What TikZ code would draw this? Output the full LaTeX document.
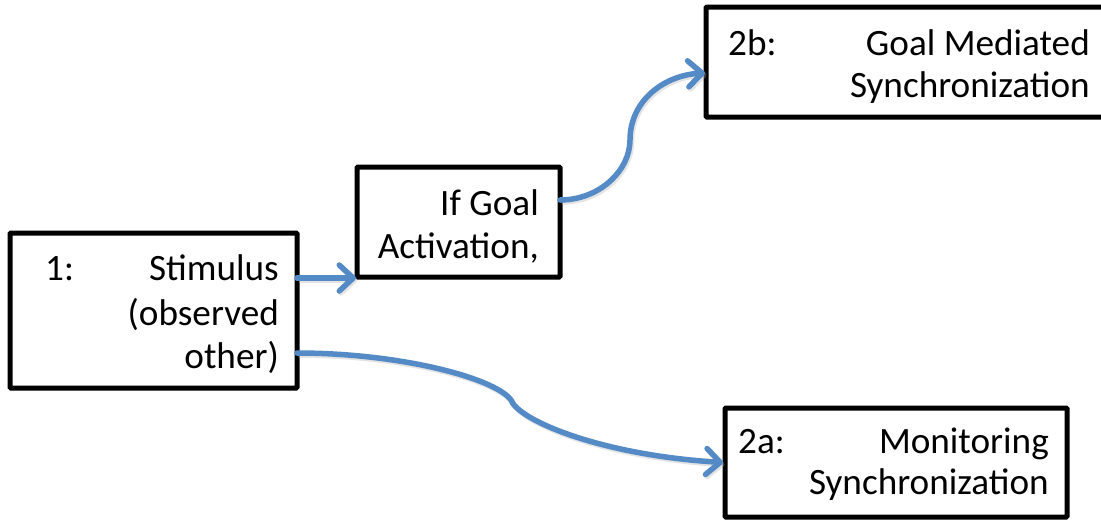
\documentclass[tikz,border=0pt]{standalone}
\usepackage{fontspec}
\setmainfont{Carlito}
\usetikzlibrary{arrows.meta,calc}
\definecolor{flow}{RGB}{84,138,198}
\begin{document}
\begin{tikzpicture}[x=1pt,y=1pt,
  box/.style={draw=black,line width=5pt,rounded corners=1pt,outer sep=0pt,inner sep=0pt},
  txt/.style={inner sep=0pt,font=\fontsize{37.2}{43}\selectfont},
  link/.style={draw=flow,line width=5.5pt,line cap=round,
    -{Straight Barb[length=14pt,width=26pt,line cap=round,line join=round]},
    preaction={draw=black!30,opacity=0.35,line width=5.5pt,
      transform canvas={shift={(1.5pt,-2pt)}}}}]
\clip (0,0) rectangle (1101,-520);
\fill[white] (0,0) rectangle (1101,-520);

% boxes
\node[box,minimum width=287pt,minimum height=155pt] (b1) at (153.5,-310.5) {};
\node[box,minimum width=203pt,minimum height=110pt] (g) at (458.5,-222) {};
\node[box,minimum width=410pt,minimum height=110pt] (b2b) at (911,-62) {};
\node[box,minimum width=342pt,minimum height=109pt] (b2a) at (896,-462.5) {};

% box 1 text
\node[txt,anchor=base west] (t1a) at (45,-280) {1:};
\node[txt,anchor=base east] (t1b) at (279,-280) {Stimulus};
\node[txt,anchor=base east] (t1c) at (279,-325) {(observed};
\node[txt,anchor=base east] (t1d) at (279,-368) {other)};

% condition box text
\node[txt,anchor=base east] (tga) at (539,-215) {If Goal};
\node[txt,anchor=base east] (tgb) at (539,-258) {Activation,};

% box 2b text
\node[txt,anchor=base west] (t2ba) at (728,-55) {2b:};
\node[txt,anchor=base east] (t2bb) at (1090,-55) {Goal Mediated};
\node[txt,anchor=base east] (t2bc) at (1090,-97) {Synchronization};

% box 2a text
\node[txt,anchor=base west] (t2aa) at (738,-453) {2a:};
\node[txt,anchor=base east] (t2ab) at (1049,-453) {Monitoring};
\node[txt,anchor=base east] (t2ac) at (1049,-494) {Synchronization};

% connectors
\draw[link] ($(b1.east)+(0,32.5)$) -- ($(g.west)+(-1,-56)$);
\draw[link] ($(g.east)+(0,22)$)
  .. controls (600,-200) and (630,-170) .. (630,-140)
  .. controls (630,-100) and (665,-75) .. ($(b2b.west)+(-1,-11)$);
\draw[link] ($(b1.east)+(0,-42.5)$)
  .. controls (400,-353) and (495,-378) .. (511,-400)
  .. controls (518,-420) and (600,-455) .. ($(b2a.west)+(-2,0)$);
\end{tikzpicture}
\end{document}
